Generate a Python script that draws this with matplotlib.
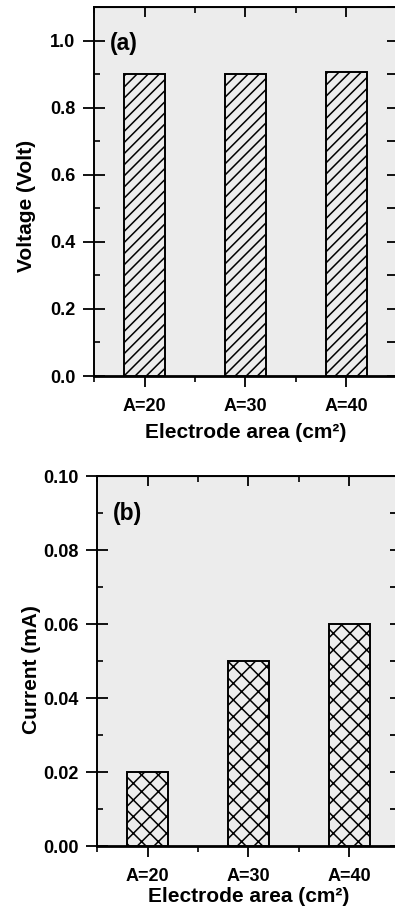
import matplotlib
matplotlib.use('Agg')
import matplotlib.pyplot as plt
from matplotlib.ticker import MultipleLocator, AutoMinorLocator

plt.rcParams['font.family'] = ['Liberation Sans', 'DejaVu Sans']
plt.rcParams['font.weight'] = 'bold'
plt.rcParams['hatch.linewidth'] = 1.1

# data
areas = ['A=20', 'A=30', 'A=40']
voltage = [0.90, 0.90, 0.905]
current = [0.02, 0.05, 0.06]

xpos = [1, 2, 3]
bg = '#ececec'

fig = plt.figure(figsize=(3.95, 9.16), dpi=100)
ax1 = fig.add_axes([0.238, 0.5895, 0.767, 0.4029])
ax2 = fig.add_axes([0.2456, 0.0764, 0.767, 0.4039])


def style(ax, ymax, ymajor, fmt, label, tag, xpad):
    ax.set_facecolor(bg)
    ax.set_xlim(0.5, 3.5)
    ax.set_ylim(0, ymax)
    ax.set_xticks(xpos)
    ax.set_xticklabels(areas)
    ax.xaxis.set_minor_locator(plt.FixedLocator([0.5, 1.5, 2.5, 3.5]))
    ax.yaxis.set_major_locator(MultipleLocator(ymajor))
    ax.yaxis.set_minor_locator(AutoMinorLocator(2))
    ax.yaxis.set_major_formatter(plt.FormatStrFormatter(fmt))
    ax.tick_params(axis='y', which='major', direction='inout', length=16, width=1.3,
                   labelsize=13, pad=5.5)
    ax.tick_params(axis='y', which='minor', direction='in', length=4.5, width=1.2)
    ax.tick_params(axis='x', which='major', direction='out', length=8, width=1.3,
                   labelsize=13, pad=8)
    ax.tick_params(axis='x', which='minor', direction='out', length=4, width=1.2)
    for s in ['left', 'top', 'right']:
        ax.spines[s].set_linewidth(1.4)
    ax.spines['bottom'].set_linewidth(2.0)

    # ticks pointing inward on the top and right edges
    top = ax.secondary_xaxis('top')
    top.set_xticks(xpos)
    top.xaxis.set_minor_locator(plt.FixedLocator([0.5, 1.5, 2.5, 3.5]))
    top.tick_params(which='major', direction='in', length=7, width=1.3, labeltop=False)
    top.tick_params(which='minor', direction='in', length=4.5, width=1.2)
    right = ax.secondary_yaxis('right')
    right.yaxis.set_major_locator(MultipleLocator(ymajor))
    right.yaxis.set_minor_locator(AutoMinorLocator(2))
    right.tick_params(which='both', direction='in', length=7, width=1.3, labelright=False)

    ax.set_xlabel('Electrode area (cm²)', fontsize=15, fontweight='bold', labelpad=xpad)
    ax.set_ylabel(label, fontsize=15, fontweight='bold')
    ax.text(0.053, 0.90, tag, transform=ax.transAxes, fontsize=16.5,
            fontweight='bold', va='center', ha='left')


ax1.bar(xpos, voltage, width=0.4, color=bg, edgecolor='black', linewidth=1.4,
        hatch='///', zorder=3)
style(ax1, 1.1, 0.2, '%.1f', 'Voltage (Volt)', '(a)', 5.5)

ax2.bar(xpos, current, width=0.4, color=bg, edgecolor='black', linewidth=1.4,
        hatch='xx', zorder=3)
style(ax2, 0.10, 0.02, '%.2f', 'Current (mA)', '(b)', 1)

ax1.yaxis.set_label_coords(-0.19, 0.462)
ax2.yaxis.set_label_coords(-0.184, 0.476)

fig.savefig('out.png', dpi=100)
